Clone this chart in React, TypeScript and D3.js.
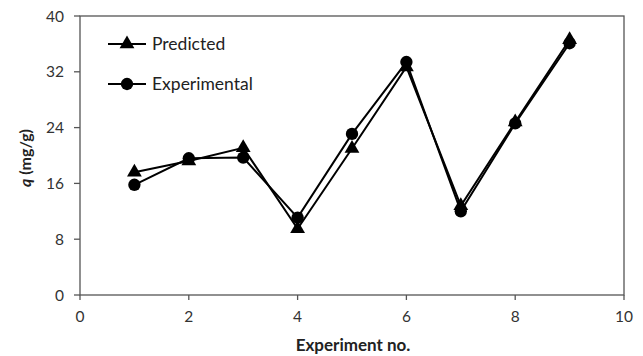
import React from "react";
import * as d3 from "d3";

const experiments = [1, 2, 3, 4, 5, 6, 7, 8, 9];
const predicted = [17.6, 19.2, 21.1, 9.5, 21.0, 32.7, 12.8, 24.8, 36.6];
const experimental = [15.8, 19.6, 19.7, 11.1, 23.1, 33.4, 12.0, 24.6, 36.1];
const xTicks = [0, 2, 4, 6, 8, 10];
const yTicks = [0, 8, 16, 24, 32, 40];

const W = 643, H = 356;
const left = 80, right = 624, top = 16, bottom = 295;
const font = "Lato, 'Open Sans', 'DejaVu Sans', sans-serif";

export default function App() {
  const x = d3.scaleLinear().domain([0, 10]).range([left, right]);
  const y = d3.scaleLinear().domain([0, 40]).range([bottom, top]);
  const line = d3.line<number>().x((_, i) => x(experiments[i])).y((d) => y(d));
  const tri = d3.symbol().type(d3.symbolTriangle).size(95)();
  const circ = d3.symbol().type(d3.symbolCircle).size(120)();

  return (
    <svg width={W} height={H} style={{ position: "absolute", left: 0, top: 0, background: "#fff" }}>
      <rect x={left} y={top} width={right - left} height={bottom - top} fill="none" stroke="#555" strokeWidth={1.3} />
      {xTicks.map((t) => (
        <g key={"x" + t}>
          <line x1={x(t)} x2={x(t)} y1={bottom} y2={bottom + 5} stroke="#555" strokeWidth={1.3} />
          <text x={x(t)} y={322} textAnchor="middle" fontFamily={font} fontSize={15.5} fill="#333">{t}</text>
        </g>
      ))}
      {yTicks.map((t) => (
        <g key={"y" + t}>
          <line x1={left - 6} x2={left} y1={y(t)} y2={y(t)} stroke="#555" strokeWidth={1.3} />
          <text x={64} y={y(t) + 5.5} textAnchor="end" fontFamily={font} fontSize={15.5} fill="#333">{t}</text>
        </g>
      ))}
      <text x={353} y={351} textAnchor="middle" fontFamily={font} fontSize={17} fontWeight="bold" fill="#222">Experiment no.</text>
      <text transform={`translate(31,${158}) rotate(-90)`} textAnchor="middle" fontFamily={font} fontSize={16} fontWeight="bold" fill="#222">
        <tspan fontStyle="italic">q</tspan> (mg/g)
      </text>
      <path d={line(predicted) || ""} fill="none" stroke="#000" strokeWidth={2} />
      <path d={line(experimental) || ""} fill="none" stroke="#000" strokeWidth={2} />
      {predicted.map((v, i) => (
        <path key={"p" + i} d={tri || ""} transform={`translate(${x(experiments[i])},${y(v)})`} fill="#000" />
      ))}
      {experimental.map((v, i) => (
        <path key={"e" + i} d={circ || ""} transform={`translate(${x(experiments[i])},${y(v)})`} fill="#000" />
      ))}
      <g>
        <line x1={108} x2={146} y1={44} y2={44} stroke="#000" strokeWidth={2} />
        <path d={tri || ""} transform="translate(127,44)" fill="#000" />
        <text x={152} y={50} fontFamily={font} fontSize={17.5} fill="#222">Predicted</text>
        <line x1={108} x2={146} y1={84} y2={84} stroke="#000" strokeWidth={2} />
        <path d={circ || ""} transform="translate(127,84)" fill="#000" />
        <text x={152} y={90} fontFamily={font} fontSize={17.5} fill="#222">Experimental</text>
      </g>
    </svg>
  );
}
